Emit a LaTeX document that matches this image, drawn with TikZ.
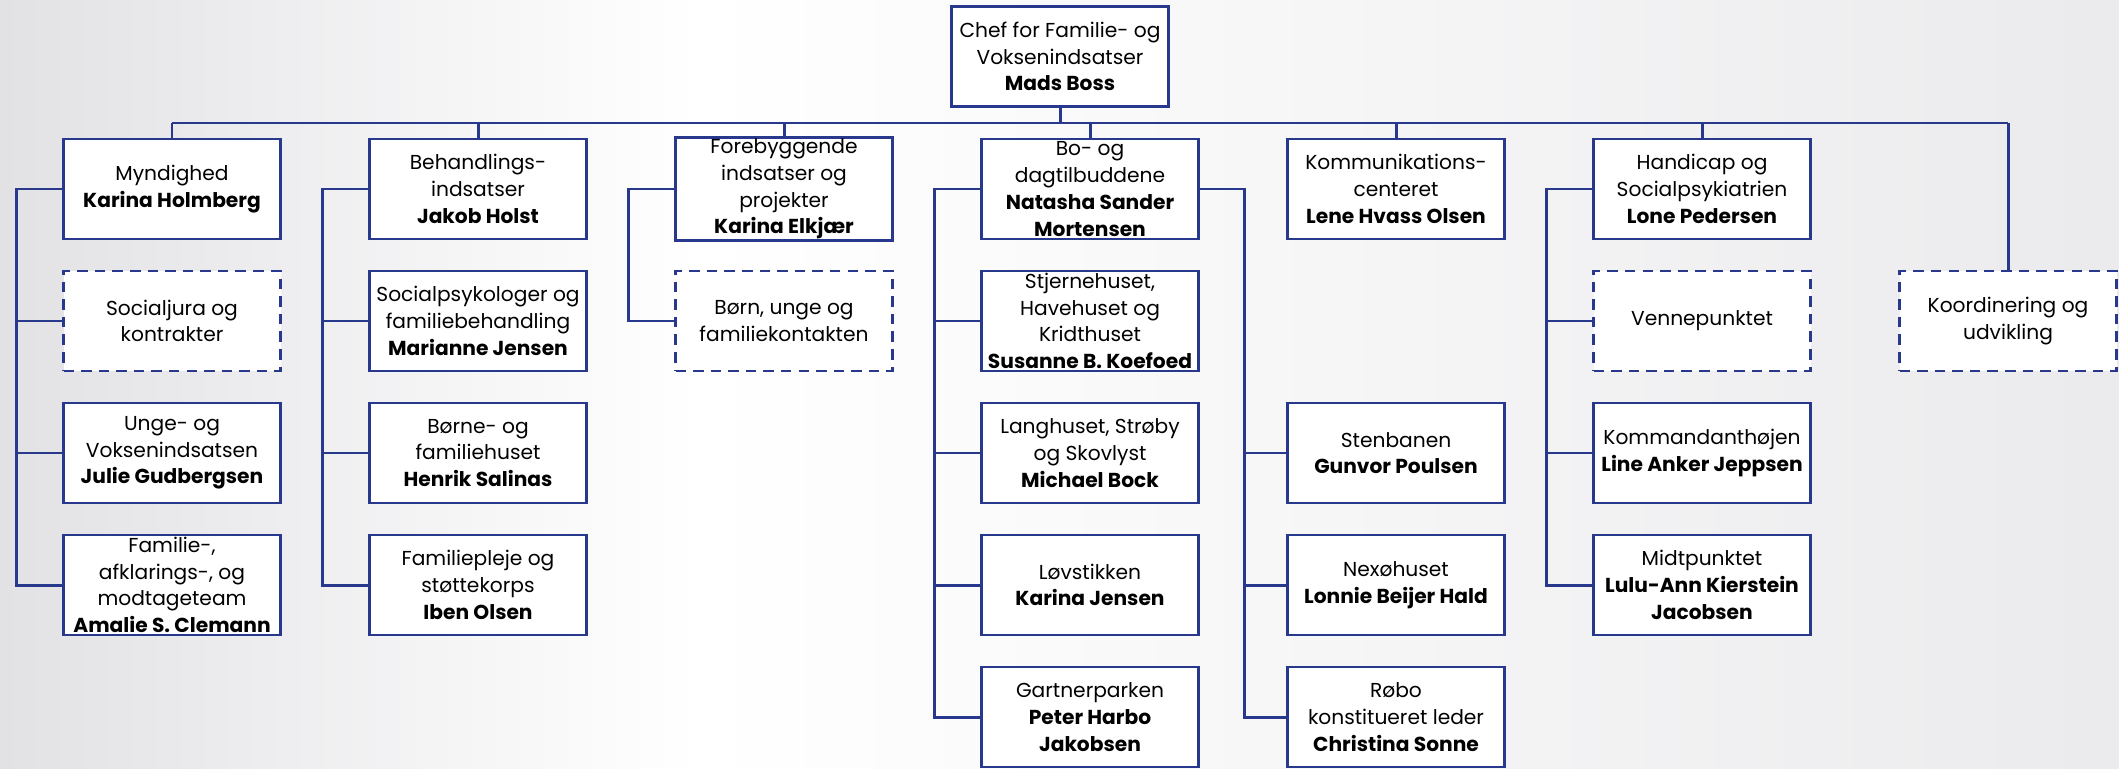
\documentclass[tikz,border=0pt]{standalone}
\usepackage{fontspec}
\setsansfont{Poppins}
\usetikzlibrary{positioning}
\definecolor{orgblue}{RGB}{40,56,140}
\definecolor{bggrey}{RGB}{226,226,229}

\begin{document}
\begin{tikzpicture}[
  unit/.style={rectangle, draw=orgblue, line width=1.6pt, fill=white, minimum width=4.34cm, minimum height=2cm, inner xsep=0pt, inner ysep=0.5pt, align=center, font=\sffamily\fontsize{11.5}{15.2}\selectfont},
  planned/.style={unit, dash pattern=on 6pt off 4pt},
  conn/.style={draw=orgblue, line width=1.7pt},
  node distance=6.12cm
]
% background
\shade[left color=bggrey, right color=white] (0,0) rectangle (14,-15.36);
\shade[left color=white, right color=bggrey!70] (14,0) rectangle (42.38,-15.36);

\node[unit] (chef) at (21.2,-1.13) {Chef for Familie- og\\Voksenindsatser\\\textbf{Mads Boss}};

% first level
\node[unit] (myn) at (3.44,-3.78) {Myndighed\\\textbf{Karina Holmberg}};
\node[unit, right of=myn] (beh) {Behandlings-\\indsatser\\\textbf{Jakob Holst}};
\node[unit, right of=beh] (fore) {Forebyggende\\indsatser og\\projekter\\\textbf{Karina Elkjær}};
\node[unit, right of=fore] (bo) {Bo- og\\dagtilbuddene\\\textbf{Natasha Sander}\\\textbf{Mortensen}};
\node[unit, right of=bo] (komm) {Kommunikations-\\centeret\\\textbf{Lene Hvass Olsen}};
\node[unit, right of=komm] (handi) {Handicap og\\Socialpsykiatrien\\\textbf{Lone Pedersen}};

% Myndighed
\node[planned, below of=myn, node distance=2.64cm] (social) {Socialjura og\\kontrakter};
\node[unit, below of=social, node distance=2.64cm] (unge) {Unge- og\\Voksenindsatsen\\\textbf{Julie Gudbergsen}};
\node[unit, below of=unge, node distance=2.64cm] (famteam) {Familie-,\\afklarings-, og\\modtageteam\\\textbf{Amalie S. Clemann}};

% Behandlingsindsatser
\node[unit, below of=beh, node distance=2.64cm] (sopsy) {Socialpsykologer og\\familiebehandling\\\textbf{Marianne Jensen}};
\node[unit, below of=sopsy, node distance=2.64cm] (bfhus) {Børne- og\\familiehuset\\\textbf{Henrik Salinas}};
\node[unit, below of=bfhus, node distance=2.64cm] (fpleje) {Familiepleje og\\støttekorps\\\textbf{Iben Olsen}};

% Forebyggende
\node[planned, below of=fore, node distance=2.64cm] (bufa) {Børn, unge og\\familiekontakten};

% Bo- og dagtilbud
\node[unit, below of=bo, node distance=2.64cm] (stjerne) {Stjernehuset,\\Havehuset og\\Kridthuset\\\textbf{Susanne B. Koefoed}};
\node[unit, below of=stjerne, node distance=2.64cm] (lang) {Langhuset, Strøby\\og Skovlyst\\\textbf{Michael Bock}};
\node[unit, below of=lang, node distance=2.64cm] (lov) {Løvstikken\\\textbf{Karina Jensen}};
\node[unit, below of=lov, node distance=2.64cm] (gartner) {Gartnerparken\\\textbf{Peter Harbo}\\\textbf{Jakobsen}};
\node[unit, right of=lang] (sten) {Stenbanen\\\textbf{Gunvor Poulsen}};
\node[unit, right of=lov] (nexo) {Nexøhuset\\\textbf{Lonnie Beijer Hald}};
\node[unit, right of=gartner] (robo) {Røbo\\konstitueret leder\\\textbf{Christina Sonne}};

% Handicap
\node[planned, below of=handi, node distance=2.64cm] (venne) {Vennepunktet};
\node[unit, below of=venne, node distance=2.64cm] (kommand) {Kommandanthøjen\\\textbf{Line Anker Jeppsen}};
\node[unit, below of=kommand, node distance=2.64cm] (midt) {Midtpunktet\\\textbf{Lulu-Ann Kierstein}\\\textbf{Jacobsen}};

\node[planned, right of=venne] (koord) {Koordinering og\\udvikling};

% bus
\coordinate (bus) at (0,-2.46);
\draw[conn] (chef.south) -- (chef.south|-bus);
\draw[conn] (myn.north|-bus) -- (koord.north|-bus);
\draw[conn] (myn.north|-bus) -- (myn.north);
\draw[conn] (beh.north|-bus) -- (beh.north);
\draw[conn] (fore.north|-bus) -- (fore.north);
\draw[conn] (bo.north|-bus) -- (bo.north);
\draw[conn] (komm.north|-bus) -- (komm.north);
\draw[conn] (handi.north|-bus) -- (handi.north);
\draw[conn] (koord.north|-bus) -- (koord.north);

% side connectors
\draw[conn] (myn.west) -- ++(-0.92,0) |- (social.west);
\draw[conn] (myn.west) -- ++(-0.92,0) |- (unge.west);
\draw[conn] (myn.west) -- ++(-0.92,0) |- (famteam.west);
\draw[conn] (beh.west) -- ++(-0.92,0) |- (sopsy.west);
\draw[conn] (beh.west) -- ++(-0.92,0) |- (bfhus.west);
\draw[conn] (beh.west) -- ++(-0.92,0) |- (fpleje.west);
\draw[conn] (fore.west) -- ++(-0.92,0) |- (bufa.west);
\draw[conn] (bo.west) -- ++(-0.92,0) |- (stjerne.west);
\draw[conn] (bo.west) -- ++(-0.92,0) |- (lang.west);
\draw[conn] (bo.west) -- ++(-0.92,0) |- (lov.west);
\draw[conn] (bo.west) -- ++(-0.92,0) |- (gartner.west);
\draw[conn] (bo.east) -- ++(0.9,0) |- (sten.west);
\draw[conn] (bo.east) -- ++(0.9,0) |- (nexo.west);
\draw[conn] (bo.east) -- ++(0.9,0) |- (robo.west);
\draw[conn] (handi.west) -- ++(-0.92,0) |- (venne.west);
\draw[conn] (handi.west) -- ++(-0.92,0) |- (kommand.west);
\draw[conn] (handi.west) -- ++(-0.92,0) |- (midt.west);
\end{tikzpicture}
\end{document}
